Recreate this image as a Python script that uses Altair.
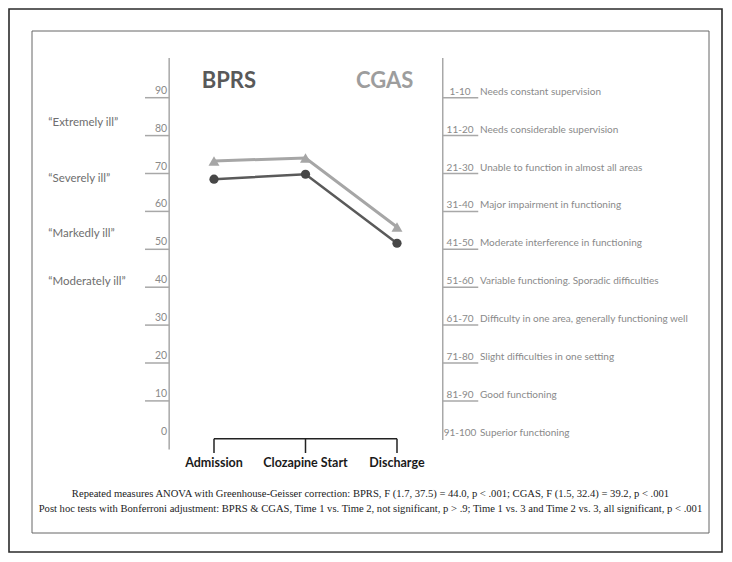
import altair as alt
import pandas as pd

# ---- data ----
timepoints = ["Admission", "Clozapine Start", "Discharge"]
bprs_mean = [68.5, 69.8, 51.6]
cgas_mean = [26.7, 25.9, 44.1]

bprs_ticks = [0, 10, 20, 30, 40, 50, 60, 70, 80, 90]

severity_labels = ["\u201cExtremely ill\u201d", "\u201cSeverely ill\u201d",
                   "\u201cMarkedly ill\u201d", "\u201cModerately ill\u201d"]
severity_at = [83.4, 68.5, 54.0, 41.5]

cgas_ranges = ["1-10", "11-20", "21-30", "31-40", "41-50",
               "51-60", "61-70", "71-80", "81-90", "91-100"]
cgas_upper = [10, 20, 30, 40, 50, 60, 70, 80, 90, 100]
cgas_desc = ["Needs constant supervision",
             "Needs considerable supervision",
             "Unable to function in almost all areas",
             "Major impairment in functioning",
             "Moderate interference in functioning",
             "Variable functioning. Sporadic difficulties",
             "Difficulty in one area, generally functioning well",
             "Slight difficulties in one setting",
             "Good functioning",
             "Superior functioning"]

notes = [
    "Repeated measures ANOVA with Greenhouse-Geisser correction:  BPRS, F (1.7, 37.5) = 44.0, p < .001;  CGAS, F (1.5, 32.4) = 39.2, p < .001",
    "Post hoc tests with Bonferroni adjustment:  BPRS & CGAS, Time 1 vs. Time 2, not significant, p > .9; Time 1 vs. 3 and Time 2 vs. 3, all significant, p < .001",
]

# ---- tables ----
df_main = pd.DataFrame({"t": timepoints, "i": list(range(len(timepoints))),
                        "bprs": bprs_mean, "cgas": cgas_mean})
df_ticks = pd.DataFrame({"v": bprs_ticks})
df_sev = pd.DataFrame({"label": severity_labels, "at": severity_at})
df_cgas = pd.DataFrame({"range": cgas_ranges, "upper": cgas_upper, "desc": cgas_desc})
one = pd.DataFrame({"k": [0]})

W, H = 713, 543
xs = alt.Scale(domain=[-2.2404, 5.5519], nice=False, zero=False)
ys = alt.Scale(domain=[-29.868, 113.404], nice=False, zero=False)


def X(field=None, datum=None):
    if datum is not None:
        return alt.XDatum(datum, type="quantitative", scale=xs, axis=None)
    return alt.X(field, type="quantitative", scale=xs, axis=None)


def Y(field=None, datum=None):
    if datum is not None:
        return alt.YDatum(datum, type="quantitative", scale=ys, axis=None)
    return alt.Y(field, type="quantitative", scale=ys, axis=None)


LBL = "#8a8a8a"
FONT = "Lato"

# inner frame
inner = alt.Chart(one).mark_rect(fillOpacity=0, stroke="#666", strokeWidth=1).encode(
    x=alt.value(23), x2=alt.value(700), y=alt.value(22), y2=alt.value(524))

# left axis
l_axis = alt.Chart(one).mark_rule(color="#a8a8a8", strokeWidth=1.5).encode(
    x=X(datum=-0.49), y=Y(datum=100.5), y2=alt.Y2Datum(-2.8))
l_ticks = alt.Chart(df_ticks).transform_filter("datum.v > 0").mark_rule(
    color="#a8a8a8", strokeWidth=1.5).encode(
    x=X(datum=-0.754), x2=alt.X2Datum(-0.49), y=Y("v"))
l_labels = alt.Chart(df_ticks).mark_text(
    align="right", baseline="bottom", dx=-2, dy=-2, font=FONT, fontSize=10.5, color=LBL).encode(
    x=X(datum=-0.49), y=Y("v"), text=alt.Text("v:Q"))
sev = alt.Chart(df_sev).mark_text(
    align="left", baseline="middle", font=FONT, fontSize=11.5, color="#6e6e6e").encode(
    x=X(datum=-1.811), y=Y("at"), text="label:N")

# right axis (CGAS, reversed onto the same vertical scale)
r_axis = alt.Chart(one).mark_rule(color="#a8a8a8", strokeWidth=1.5).encode(
    x=X(datum=2.5), y=Y(datum=100.5), y2=alt.Y2Datum(-0.3))
r_ticks = alt.Chart(df_cgas).transform_filter("datum.upper < 100").transform_calculate(
    b="100 - datum.upper").mark_rule(color="#a8a8a8", strokeWidth=1.5).encode(
    x=X(datum=2.5), x2=alt.X2Datum(2.888), y=Y("b"))
r_ranges = alt.Chart(df_cgas).transform_calculate(b="100 - datum.upper").mark_text(
    align="center", baseline="bottom", dy=-1, font=FONT, fontSize=10, color=LBL).encode(
    x=X(datum=2.689), y=Y("b"), text="range:N")
r_desc = alt.Chart(df_cgas).transform_calculate(b="100 - datum.upper").mark_text(
    align="left", baseline="bottom", dy=-1, font=FONT, fontSize=10, color=LBL).encode(
    x=X(datum=2.907), y=Y("b"), text="desc:N")

# titles
t_bprs = alt.Chart(one).mark_text(
    align="left", baseline="middle", font=FONT, fontSize=22, fontWeight="bold", color="#595959").encode(
    x=X(datum=-0.134), y=Y(datum=94.5), text=alt.value("BPRS"))
t_cgas = alt.Chart(one).mark_text(
    align="left", baseline="middle", font=FONT, fontSize=22, fontWeight="bold", color="#9d9d9d").encode(
    x=X(datum=1.552), y=Y(datum=94.5), text=alt.value("CGAS"))

# series
cg = alt.Chart(df_main).transform_calculate(b="100 - datum.cgas")
cgas_line = cg.mark_line(color="#a6a6a6", strokeWidth=3).encode(x=X("i"), y=Y("b"))
cgas_pts = cg.mark_point(shape="triangle-up", filled=True, size=120, opacity=1,
                         color="#a6a6a6").encode(x=X("i"), y=Y("b"))
bprs_line = alt.Chart(df_main).mark_line(color="#5a5a5a", strokeWidth=2.5).encode(
    x=X("i"), y=Y("bprs"))
bprs_pts = alt.Chart(df_main).mark_point(shape="circle", filled=True, size=85, opacity=1,
                                         color="#474747").encode(x=X("i"), y=Y("bprs"))

# bracket (time axis)
br_h = alt.Chart(one).mark_rule(color="#222", strokeWidth=1.5).encode(
    x=X(datum=0), x2=alt.X2Datum(2), y=Y(datum=0))
br_v = alt.Chart(df_main).mark_rule(color="#222", strokeWidth=1.5).encode(
    x=X("i"), y=Y(datum=0), y2=alt.Y2Datum(-3.75))
br_lbl = alt.Chart(df_main).mark_text(
    align="center", baseline="middle", font=FONT, fontSize=12.5, fontWeight="bold", color="#1a1a1a").encode(
    x=X("i"), y=Y(datum=-6.46), text="t:N")

# footnotes
foot1 = alt.Chart(one).mark_text(
    align="center", baseline="middle", font="Liberation Serif", fontSize=10.6, color="#222").encode(
    x=X(datum=1.71), y=Y(datum=-14.6), text=alt.value(notes[0]))
foot2 = alt.Chart(one).mark_text(
    align="center", baseline="middle", font="Liberation Serif", fontSize=10.6, color="#222").encode(
    x=X(datum=1.71), y=Y(datum=-18.5), text=alt.value(notes[1]))

chart = alt.layer(
    inner, l_axis, l_ticks, l_labels, sev, r_axis, r_ticks, r_ranges, r_desc,
    t_bprs, t_cgas, cgas_line, cgas_pts, bprs_line, bprs_pts, br_h, br_v, br_lbl,
    foot1, foot2
).properties(
    width=W, height=H, padding=1, autosize=alt.AutoSizeParams(type="none"),
    background="white"
).configure_view(stroke="#2b2b2b", strokeWidth=1.6)

chart.save("out.html", embed_options={"renderer": "svg", "actions": False})
